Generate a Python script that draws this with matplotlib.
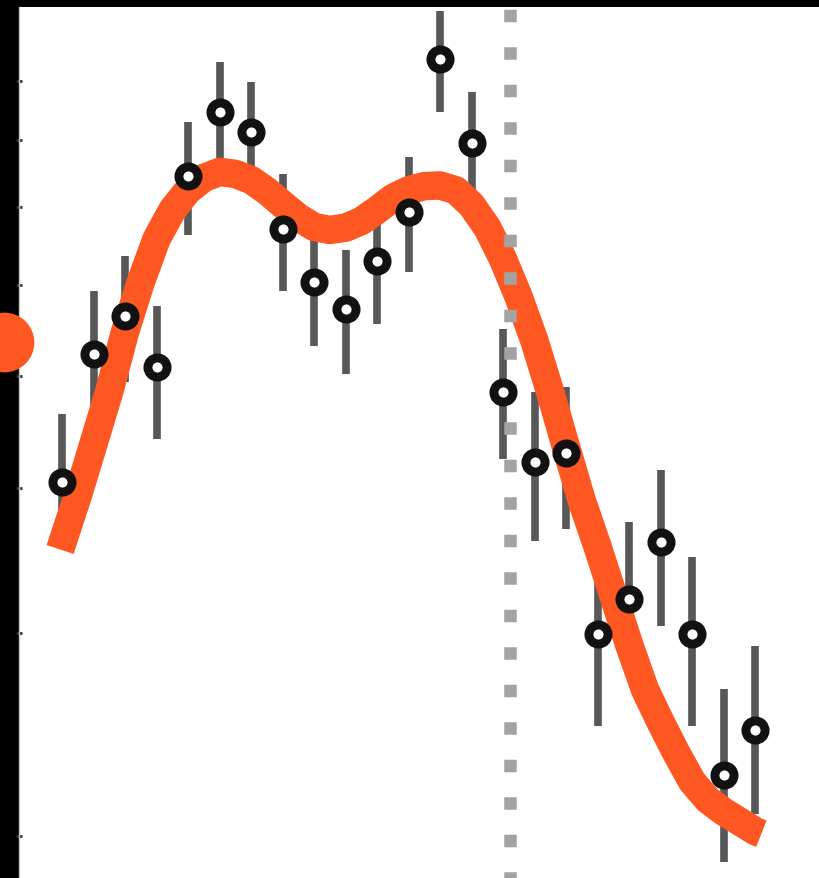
import matplotlib
matplotlib.use("Agg")
import matplotlib.pyplot as plt
from matplotlib.ticker import FixedLocator, NullLocator, NullFormatter
import numpy as np

# measured points (log-scale y) with lower / upper error-bar ends
x_pts = np.arange(23)
y_pts = [4.05, 5.23, 5.64, 5.09, 7.45, 8.46, 8.13, 6.70, 6.03, 5.71, 6.29, 6.94,
         9.40, 7.95, 4.84, 4.21, 4.29, 2.99, 3.21, 3.59, 2.99, 2.26, 2.47]
y_hi = [4.64, 5.92, 6.35, 5.75, 8.29, 9.35, 8.98, 7.48, 6.85, 6.43, 7.13, 7.74,
        10.34, 8.80, 5.49, 4.84, 4.89, 3.59, 3.74, 4.15, 3.49, 2.68, 2.92]
y_lo = [3.54, 4.63, 4.94, 4.41, 6.62, 7.66, 7.36, 5.92, 5.31, 5.02, 5.55, 6.15,
        8.46, 7.19, 4.24, 3.60, 3.69, 2.49, 2.75, 3.04, 2.49, 1.90, 2.09]

# smooth fit curve
fit_x = [-0.06, 0.5, 1, 1.5, 2, 2.5, 3, 3.5, 4, 4.5, 5, 5.5, 6, 6.5, 7, 7.5, 8, 8.5,
         9, 9.5, 10, 10.5, 11, 11.5, 12, 12.5, 13, 13.5, 14, 14.5, 15, 15.5, 16,
         16.5, 17, 17.5, 18, 18.5, 19, 19.5, 20, 20.5, 21, 21.5, 22, 22.2]
fit_y = [3.54, 3.94, 4.37, 4.85, 5.46, 6.03, 6.57, 6.96, 7.24, 7.42, 7.51, 7.48,
         7.39, 7.23, 7.04, 6.86, 6.73, 6.69, 6.72, 6.81, 6.96, 7.13, 7.24, 7.30,
         7.31, 7.24, 7.03, 6.72, 6.31, 5.85, 5.36, 4.84, 4.34, 3.90, 3.56, 3.23,
         2.93, 2.68, 2.51, 2.36, 2.23, 2.15, 2.10, 2.06, 2.02, 2.01]

event_x = 14.22
marker_pos = (-1.84, 5.35)
y_ticks = [2, 3, 4, 5, 6, 7, 8, 9]

orange = "#ff5722"

fig = plt.figure(figsize=(8.2, 8.79), dpi=100)
fig.patch.set_facecolor("black")
ax = fig.add_axes([19 / 820, 0, 801 / 820, 871 / 879])
ax.set_facecolor("white")
ax.set_yscale("log")
ax.set_xlim(-1.365, 24.06)
ax.set_ylim(1.84, 10.43)

err = [np.array(y_pts) - np.array(y_lo), np.array(y_hi) - np.array(y_pts)]
ax.errorbar(x_pts, y_pts, yerr=err, fmt="none", ecolor="#585858",
            elinewidth=5.5, capsize=0, zorder=1)
ax.plot(fit_x, fit_y, color=orange, lw=20.5, solid_capstyle="butt",
        solid_joinstyle="round", zorder=2)
ax.axvline(event_x, color="#a3a3a3", lw=9, linestyle=(0.5, (1, 2)), zorder=3)
ax.plot(x_pts, y_pts, "o", ms=13.8, mfc="white", mec="#111111", mew=6.4,
        linestyle="none", zorder=4)
ax.plot(*marker_pos, "o", ms=43, color=orange, mec="none", clip_on=False, zorder=5)

for s in ["top", "right", "bottom"]:
    ax.spines[s].set_visible(False)
ax.spines["left"].set_color("#c8c8c8")
ax.spines["left"].set_linewidth(1)

ax.yaxis.set_major_locator(FixedLocator(y_ticks))
ax.yaxis.set_minor_locator(NullLocator())
ax.yaxis.set_major_formatter(NullFormatter())
ax.yaxis.set_minor_formatter(NullFormatter())
ax.tick_params(axis="y", direction="inout", length=5, width=2, color="#333333")
ax.set_xticks([])

fig.savefig("out.png", dpi=100, facecolor="black")
